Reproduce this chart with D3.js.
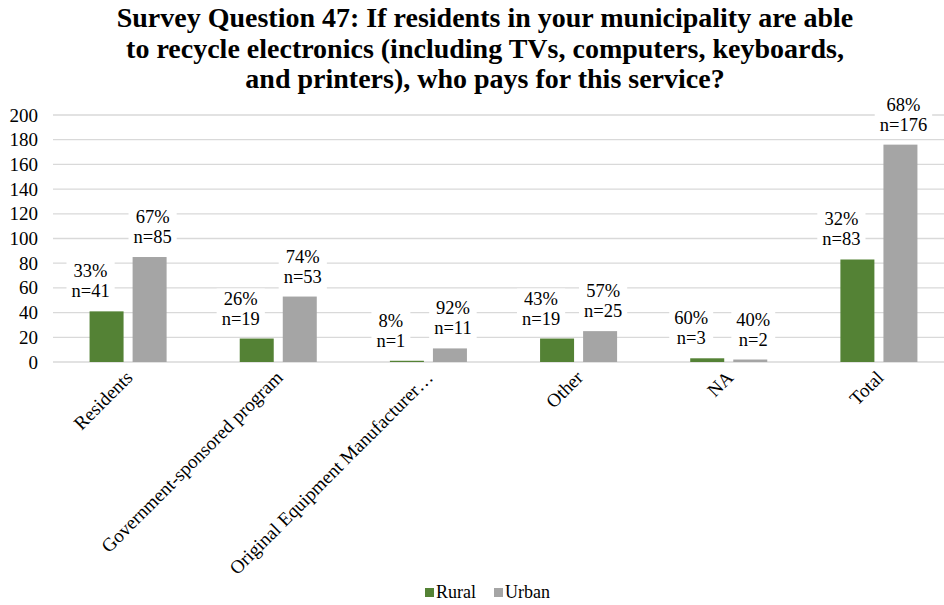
<!DOCTYPE html>
<html>
<head>
<meta charset="utf-8">
<script src="https://cdn.jsdelivr.net/npm/d3@7"></script>
<style>
 body { margin:0; background:#fff; }
 text { font-family:"Liberation Serif","Times New Roman",serif; fill:#000; }
</style>
</head>
<body>
<div class="featured"></div>
<script>
 var categories = ["Residents","Government-sponsored program","Original Equipment Manufacturer\u2026","Other","NA","Total"];
 var series = ["Rural","Urban"];
 var ruralValues = [41,19,1,19,3,83];
 var urbanValues = [85,53,11,25,2,176];
 var ruralPct = [33,26,8,43,60,32];
 var urbanPct = [67,74,92,57,40,68];
 var yTicks = [0,20,40,60,80,100,120,140,160,180,200];
 var titleLines = ["Survey Question 47: If residents in your municipality are able",
                   "to recycle electronics (including TVs, computers, keyboards,",
                   "and printers), who pays for this service?"];

 var colors = {Rural:"#548235", Urban:"#A5A5A5"};
 var labelShift = {Rural:-16, Urban:3};

 var svg = d3.select(".featured").append("svg")
      .attr("width",944)
      .attr("height",605);

 // title
 svg.append("g").selectAll("text")
    .data(titleLines)
    .enter().append("text")
    .attr("x",485)
    .attr("y",function(d,i){ return 27 + i*30.5; })
    .attr("text-anchor","middle")
    .attr("font-size",28)
    .attr("font-weight","bold")
    .text(function(d){ return d; });

 var y = d3.scaleLinear().domain([0,200]).range([362,115]);
 var x0 = d3.scaleBand().domain(categories).range([53,954]).paddingInner(0.487).paddingOuter(0.2435);
 var x1 = d3.scaleBand().domain(series).range([0,x0.bandwidth()]).paddingInner(0.21);

 // grid
 svg.append("g").selectAll("line")
    .data(yTicks)
    .enter().append("line")
    .attr("x1",53).attr("x2",944)
    .attr("y1",function(d){ return y(d); })
    .attr("y2",function(d){ return y(d); })
    .attr("stroke","#d9d9d9")
    .attr("stroke-width",1.3);

 var yAxis = svg.append("g")
    .attr("transform","translate(42,0)")
    .call(d3.axisLeft(y).tickValues(yTicks).tickSize(0).tickPadding(4));
 yAxis.select(".domain").remove();
 yAxis.selectAll("text").attr("font-size",19).style("font-family","Liberation Serif, serif");

 var rows = categories.map(function(c,i){
   return {cat:c, vals:[
     {s:"Rural", v:ruralValues[i], p:ruralPct[i]},
     {s:"Urban", v:urbanValues[i], p:urbanPct[i]}
   ]};
 });

 var groups = svg.append("g").selectAll("g")
    .data(rows)
    .enter().append("g")
    .attr("transform",function(d){ return "translate(" + x0(d.cat) + ",0)"; });

 groups.selectAll("rect")
    .data(function(d){ return d.vals; })
    .enter().append("rect")
    .attr("x",function(d){ return x1(d.s); })
    .attr("y",function(d){ return y(d.v); })
    .attr("width",x1.bandwidth())
    .attr("height",function(d){ return y(0) - y(d.v); })
    .attr("fill",function(d){ return colors[d.s]; });

 // data labels with white boxes
 var labels = groups.selectAll("g.lab")
    .data(function(d){ return d.vals; })
    .enter().append("g")
    .attr("class","lab")
    .attr("transform",function(d){
      return "translate(" + (x1(d.s) + x1.bandwidth()/2 + labelShift[d.s]) + "," + (y(d.v) - 14) + ")";
    });
 labels.append("rect")
    .attr("x",-24).attr("y",-36)
    .attr("width",48).attr("height",44)
    .attr("fill","#fff");
 labels.append("text")
    .attr("text-anchor","middle")
    .attr("y",-20)
    .attr("font-size",18.5)
    .text(function(d){ return d.p + "%"; });
 labels.append("text")
    .attr("text-anchor","middle")
    .attr("y",0)
    .attr("font-size",18.5)
    .text(function(d){ return "n=" + d.v; });
 labels.each(function(){
   var g = d3.select(this);
   var w = 0;
   g.selectAll("text").each(function(){ w = Math.max(w, this.getComputedTextLength()); });
   g.select("rect").attr("x",-w/2 - 5).attr("width",w + 10);
 });

 // category labels
 svg.append("g").selectAll("text")
    .data(categories)
    .enter().append("text")
    .attr("transform",function(d){
      return "translate(" + (x0(d) + x0.bandwidth()/2 + 1) + ",374) rotate(-45)";
    })
    .attr("text-anchor","end")
    .attr("dy","0.35em")
    .attr("font-size",19)
    .text(function(d){ return d; });

 // legend
 var legend = svg.append("g").selectAll("g")
    .data(series)
    .enter().append("g")
    .attr("transform",function(d,i){ return "translate(" + (425 + i*69) + ",588)"; });
 legend.append("rect")
    .attr("width",9).attr("height",9)
    .attr("fill",function(d){ return colors[d]; });
 legend.append("text")
    .attr("x",11).attr("y",10)
    .attr("font-size",18)
    .text(function(d){ return d; });
</script>
</body>
</html>
